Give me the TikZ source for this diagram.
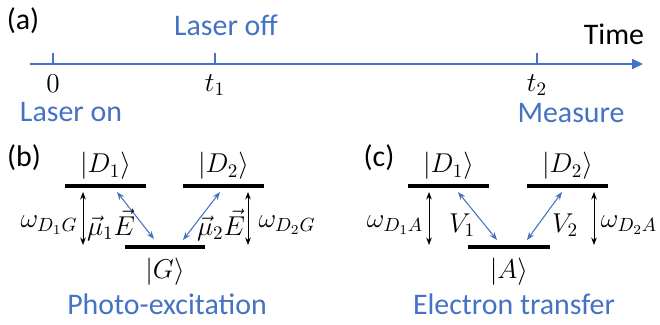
\documentclass[tikz,border=0pt]{standalone}
\usepackage{fix-cm}
\usepackage{amsmath}
\usepackage{fontspec}
\setmainfont{Carlito}
\usepackage{tikz}
\usetikzlibrary{arrows.meta,positioning}
\definecolor{pptblue}{HTML}{4472C4}
\tikzset{
  level/.style={fill=black,inner sep=0pt,minimum width=1.62cm,minimum height=2.3pt},
  timeline/.style={-{Triangle[length=2.2mm,width=2mm]},line width=1.2pt,pptblue},
  tickmark/.style={line width=1.2pt,pptblue},
  gap/.style={{Stealth[length=1.5mm]}-{Stealth[length=1.5mm]},line width=0.5pt},
  coupling/.style={{Stealth[length=1.6mm]}-{Stealth[length=1.6mm]},line width=0.6pt,pptblue},
  bluetext/.style={font=\fontsize{17}{20}\selectfont,text=pptblue,inner sep=0pt},
  blacktext/.style={font=\fontsize{17}{20}\selectfont,inner sep=0pt},
  mathlbl/.style={font=\fontsize{15.5}{18}\selectfont,inner sep=0pt}
}

\begin{document}
\begin{tikzpicture}[x=1cm,y=1cm]
\useasboundingbox (0,0) rectangle (13.2,6.5);
% (a) time axis
\node[blacktext,anchor=base] (pa) at (0.46,5.9) {(a)};
\coordinate (ax0) at (0.6,5.22);
\coordinate (ax1) at (12.86,5.22);
\draw[timeline] (ax0) -- (ax1);
\foreach \x/\n in {1.06/z,4.3/a,10.74/b}{
  \coordinate (tk\n) at (\x,5.22);
  \draw[tickmark] (tk\n) -- ++(0,0.22);
}
\node[mathlbl] (l0) at (1.06,4.83) {$0$};
\node[mathlbl] (lt1) at (4.3,4.8) {$t_1$};
\node[mathlbl] (lt2) at (10.74,4.8) {$t_2$};
\node[bluetext,anchor=base] (on) at (1.42,4.06) {Laser on};
\node[bluetext,anchor=base] (off) at (4.52,5.78) {Laser off};
\node[bluetext,anchor=base] (meas) at (11.42,4.04) {Measure};
\node[blacktext,anchor=base] (time) at (12.28,5.6) {Time};

% (b) photo-excitation
\node[blacktext,anchor=base] (pb) at (0.48,3.16) {(b)};
\node[level] (bD1) at (2.11,2.78) {};
\node[level] (bD2) at (4.47,2.78) {};
\node[level,minimum width=1.6cm] (bG) at (3.3,1.56) {};
\node[mathlbl,above=2pt of bD1] (kbD1) {$|D_1\rangle$};
\node[mathlbl,above=2pt of bD2] (kbD2) {$|D_2\rangle$};
\node[mathlbl,below=5pt of bG] (kbG) {$|G\rangle$};
\coordinate (bw1a) at (1.66,2.66);
\coordinate (bw1b) at (1.66,1.6);
\coordinate (bw2a) at (4.96,2.66);
\coordinate (bw2b) at (4.96,1.6);
\draw[gap] (bw1a) -- (bw1b);
\draw[gap] (bw2a) -- (bw2b);
\coordinate (bm1a) at (2.34,2.66);
\coordinate (bm1b) at (3.08,1.72);
\coordinate (bm2a) at (4.4,2.66);
\coordinate (bm2b) at (3.66,1.7);
\draw[coupling] (bm1a) -- (bm1b);
\draw[coupling] (bm2a) -- (bm2b);
\node[mathlbl] (wb1) at (0.98,2.0) {$\omega_{D_1G}$};
\node[mathlbl] (wb2) at (5.74,2.0) {$\omega_{D_2G}$};
\node[mathlbl] (mb1) at (2.22,2.0) {$\vec{\mu}_1\vec{E}$};
\node[mathlbl] (mb2) at (4.42,2.0) {$\vec{\mu}_2\vec{E}$};
\node[bluetext,anchor=base] (photo) at (3.34,0.2) {Photo-excitation};

% (c) electron transfer
\node[blacktext,anchor=base] (pc) at (7.58,3.16) {(c)};
\node[level] (cD1) at (8.97,2.78) {};
\node[level] (cD2) at (11.35,2.78) {};
\node[level,minimum width=1.64cm] (cA) at (10.18,1.56) {};
\node[mathlbl,above=2pt of cD1] (kcD1) {$|D_1\rangle$};
\node[mathlbl,above=2pt of cD2] (kcD2) {$|D_2\rangle$};
\node[mathlbl,below=5pt of cA] (kcA) {$|A\rangle$};
\coordinate (cw1a) at (8.58,2.66);
\coordinate (cw1b) at (8.58,1.6);
\coordinate (cw2a) at (11.88,2.66);
\coordinate (cw2b) at (11.88,1.6);
\draw[gap] (cw1a) -- (cw1b);
\draw[gap] (cw2a) -- (cw2b);
\coordinate (cv1a) at (9.16,2.66);
\coordinate (cv1b) at (9.94,1.7);
\coordinate (cv2a) at (11.24,2.66);
\coordinate (cv2b) at (10.54,1.7);
\draw[coupling] (cv1a) -- (cv1b);
\draw[coupling] (cv2a) -- (cv2b);
\node[mathlbl] (wc1) at (7.9,2.0) {$\omega_{D_1A}$};
\node[mathlbl] (wc2) at (12.58,2.0) {$\omega_{D_2A}$};
\node[mathlbl] (vc1) at (9.24,2.0) {$V_1$};
\node[mathlbl] (vc2) at (11.3,2.0) {$V_2$};
\node[bluetext,anchor=base] (et) at (10.28,0.2) {Electron transfer};
\end{tikzpicture}
\end{document}
